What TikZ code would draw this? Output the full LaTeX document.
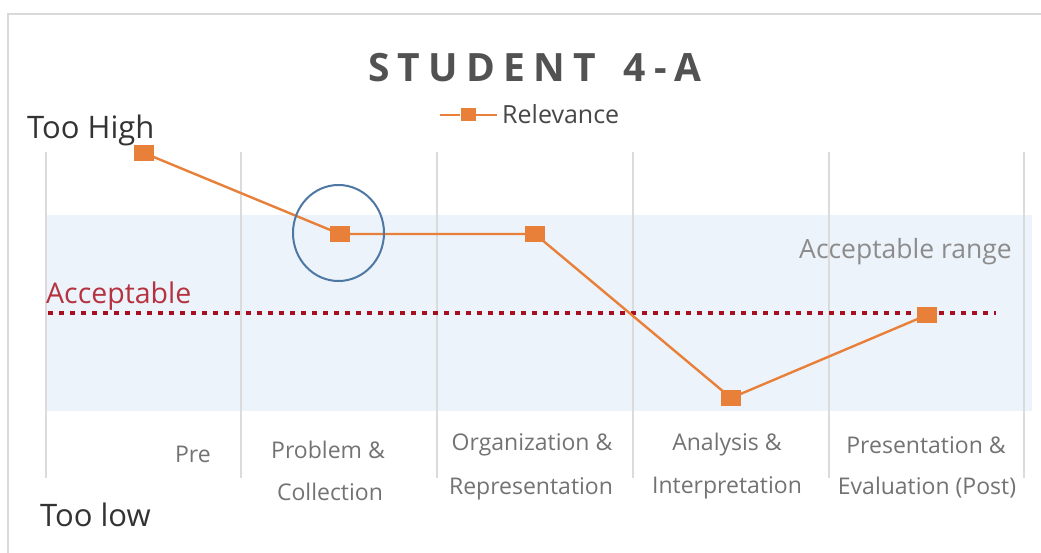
\documentclass[tikz,border=0pt]{standalone}
\usepackage{fontspec}
\usetikzlibrary{shapes.geometric}
\setmainfont{Open Sans}
\newfontfamily\titlefont[LetterSpace=21]{Open Sans}
\begin{document}
\begin{tikzpicture}[x=1pt,y=-1pt,
  grid/.style={draw=black!14,line width=1.2pt},
  mk/.style={rectangle,fill=orangeC,inner sep=0pt,minimum width=20pt,minimum height=16pt},
  serie/.style={draw=orangeC,line width=2.4pt},
  cat/.style={text=black!55,font=\fontsize{23}{24}\selectfont,inner sep=0pt,align=center}]
\definecolor{orangeC}{HTML}{E8803A}
\definecolor{bandC}{HTML}{EDF3FA}
\definecolor{redC}{HTML}{A80F1E}
\definecolor{circC}{HTML}{4E78A4}
\useasboundingbox (0,0) rectangle (1041,553);
\fill[white] (0,0) rectangle (1041,553);
% frame
\draw[black!15,line width=2.5pt] (1045,14) -- (8,14) -- (8,560);
% band
\fill[bandC] (46,215) rectangle (1032,411);
% gridlines
\foreach \x in {46,241,437,633,829,1024} \draw[grid] (\x,152) -- (\x,478);
% acceptable line
\draw[redC,line width=4.5pt,dash pattern=on 4.5pt off 6.5pt] (48,313) -- (996,313);
% title
\node[text=black!68,font=\titlefont\fontsize{39}{42}\selectfont\bfseries,inner sep=0pt] (title) at (535,68) {STUDENT\hspace{28pt}4-A};
% legend
\coordinate (la) at (440,115);
\coordinate (lb) at (497,115);
\node[mk,minimum width=15pt,minimum height=13pt] (lm) at (468,115) {};
\draw[serie] (la) -- (lm) -- (lb);
\node[anchor=west,text=black!72,font=\fontsize{25}{26}\selectfont,inner sep=0pt] (leg) at (502,114) {Relevance};
% axis labels
\node[anchor=west,text=black!80,font=\fontsize{31}{32}\selectfont,inner sep=0pt] (hi) at (27,130) {Too High};
\node[anchor=west,text=black!80,font=\fontsize{31}{32}\selectfont,inner sep=0pt] (lo) at (40,515) {Too low};
\node[anchor=west,text=redC!85,font=\fontsize{28.5}{30}\selectfont,inner sep=0pt] (acc) at (46,296) {Acceptable};
\node[anchor=east,text=black!45,font=\fontsize{26.5}{28}\selectfont,inner sep=0pt] (rng) at (1012,252) {Acceptable range};
% categories
\node[cat,anchor=east] (c1) at (211,454) {Pre};
\node[cat] (c2a) at (328,450) {Problem \&};
\node[cat] (c2b) at (330,492) {Collection};
\node[cat] (c3a) at (532,445) {Organization \&};
\node[cat] (c3b) at (531,489) {Representation};
\node[cat] (c4a) at (727,445) {Analysis \&};
\node[cat] (c4b) at (727,488) {Interpretation};
\node[cat] (c5a) at (926,445) {Presentation \&};
\node[cat] (c5b) at (927,488) {Evaluation (Post)};
% series
\node[mk] (p1) at (144,153) {};
\node[mk] (p2) at (340,234) {};
\node[mk] (p3) at (535,234) {};
\node[mk] (p4) at (731,398) {};
\node[mk] (p5) at (927,315) {};
\draw[serie] (p1.center) -- (p2.center) -- (p3.center) -- (p4.center) -- (p5.center);
\foreach \p in {p1,p2,p3,p4,p5} \node[mk] at (\p) {};
% highlight circle
\node[draw=circC,line width=2pt,ellipse,minimum width=91pt,minimum height=96pt,inner sep=0pt] (circ) at (338.5,233) {};
\end{tikzpicture}
\end{document}
